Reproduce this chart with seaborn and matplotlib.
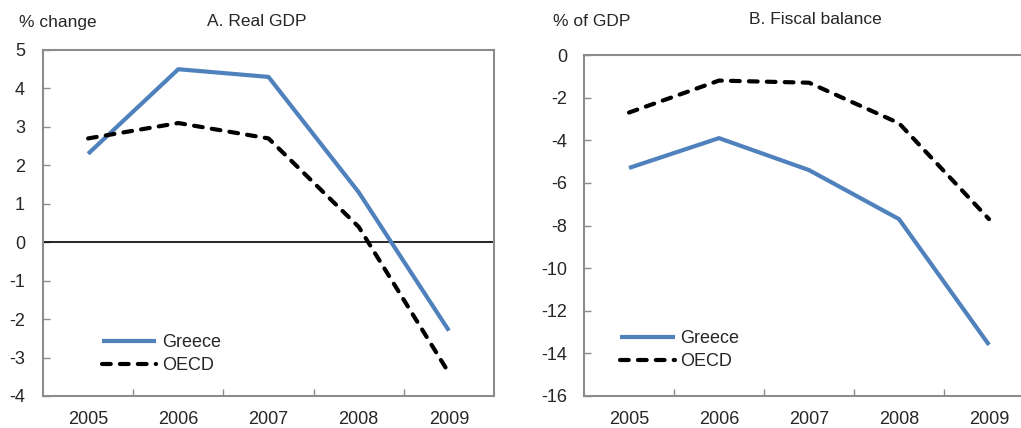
import numpy as np
import pandas as pd
import matplotlib
matplotlib.use("Agg")
import matplotlib.pyplot as plt
import seaborn as sns
from matplotlib.ticker import FixedLocator

sns.set_theme(style="white")
plt.rcParams["font.family"] = ["Liberation Sans", "DejaVu Sans"]

years = [2005, 2006, 2007, 2008, 2009]
gdp_greece = [2.3, 4.5, 4.3, 1.3, -2.3]
gdp_oecd = [2.7, 3.1, 2.7, 0.4, -3.4]
fiscal_greece = [-5.3, -3.9, -5.4, -7.7, -13.6]
fiscal_oecd = [-2.7, -1.2, -1.3, -3.2, -7.7]
series_names = ["Greece", "OECD"]

blue = "#4F81BD"
spine_grey = "#8C8C8C"

fig = plt.figure(figsize=(10.21, 4.28), dpi=100)
ax_a = fig.add_axes([43 / 1021, 32 / 428, 451 / 1021, 346 / 428])
ax_b = fig.add_axes([584 / 1021, 32 / 428, 450 / 1021, 341 / 428])


def draw_panel(ax, greece, oecd, ylim, yticks, ypad):
    df = pd.DataFrame({
        "year": years * 2,
        "value": list(greece) + list(oecd),
        "series": [series_names[0]] * len(years) + [series_names[1]] * len(years),
    })
    sns.lineplot(data=df[df.series == "Greece"], x="year", y="value", ax=ax,
                 color=blue, lw=3.0, label="Greece", solid_capstyle="butt")
    sns.lineplot(data=df[df.series == "OECD"], x="year", y="value", ax=ax,
                 color="black", lw=3.0, label="OECD", dashes=False)
    ax.lines[-1].set_dashes((2.1, 2.2))
    ax.lines[-1].set_dash_capstyle("round")
    ax.set_xlim(2004.5, 2009.5)
    ax.set_ylim(*ylim)
    ax.set_yticks(yticks)
    ax.set_yticklabels([f"{int(t)}" for t in yticks])
    ax.set_xticks(years)
    ax.set_xticklabels([str(y) for y in years])
    ax.xaxis.set_minor_locator(FixedLocator([2005.5, 2006.5, 2007.5, 2008.5]))
    ax.tick_params(axis="x", which="major", length=0, pad=10.5, labelsize=13)
    ax.tick_params(axis="x", which="minor", direction="in", length=5,
                   width=1, color=spine_grey, bottom=True)
    ax.tick_params(axis="y", which="major", direction="in", length=5,
                   width=1, color=spine_grey, left=True, pad=ypad, labelsize=13)
    ax.set_xlabel("")
    ax.set_ylabel("")
    for s in ax.spines.values():
        s.set_color(spine_grey)
        s.set_linewidth(1.5)
    ax.grid(False)


draw_panel(ax_a, gdp_greece, gdp_oecd, (-4, 5), list(range(-4, 6)), 13)
ax_a.axhline(0, color="black", lw=1.2, zorder=1)
draw_panel(ax_b, fiscal_greece, fiscal_oecd, (-16, 0), list(range(-16, 1, 2)), 12)

# Legends in lower-left corners
ax_a.legend(loc="upper left", bbox_to_anchor=(0.115, 0.2), frameon=False,
            fontsize=13, handlelength=3.0, handletextpad=0.3, labelspacing=0.35,
            borderaxespad=0)
ax_b.legend(loc="upper left", bbox_to_anchor=(0.065, 0.215), frameon=False,
            fontsize=13, handlelength=3.0, handletextpad=0.3, labelspacing=0.35,
            borderaxespad=0)

# Panel titles and units
fig.text(257 / 1021, 1 - 21 / 428, "A. Real GDP", ha="center", va="center", fontsize=12.5)
fig.text(19 / 1021, 1 - 22 / 428, "% change", ha="left", va="center", fontsize=12.5)
fig.text(815 / 1021, 1 - 19 / 428, "B. Fiscal balance", ha="center", va="center", fontsize=12.5)
fig.text(553 / 1021, 1 - 21 / 428, "% of GDP", ha="left", va="center", fontsize=12.5)

fig.savefig("out.png", dpi=100)
